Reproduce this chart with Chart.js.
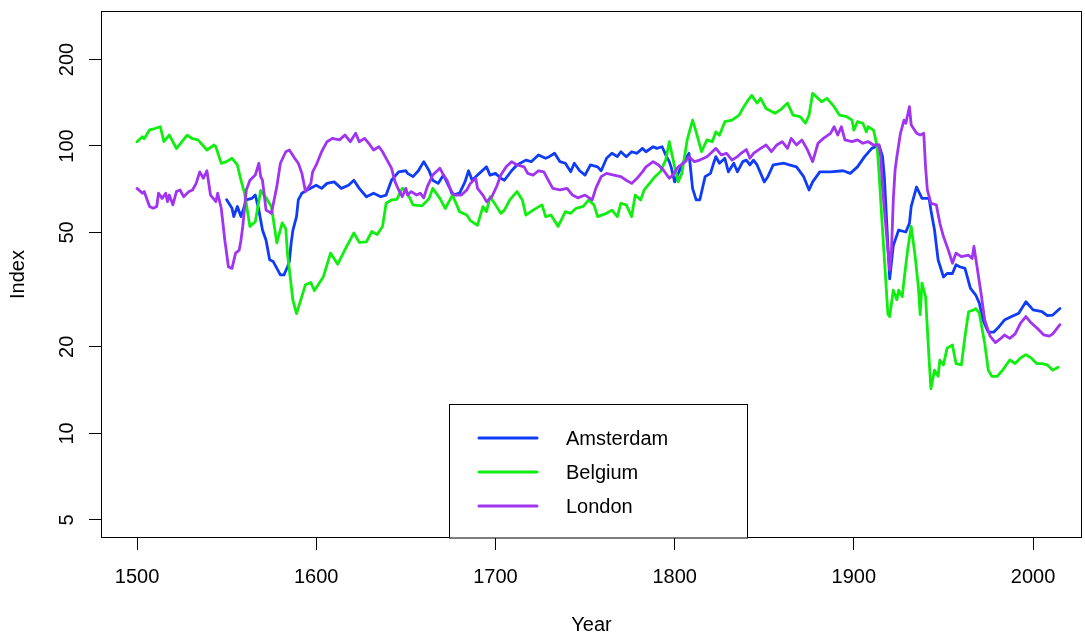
<!DOCTYPE html>
<html><head><meta charset="utf-8">
<script src="https://cdn.jsdelivr.net/npm/chart.js@4.4.1/dist/chart.umd.min.js"></script>
<style>html,body{margin:0;padding:0;background:#fff}canvas{display:block}</style>
</head><body>
<canvas id="c" width="1085" height="637"></canvas>
<script>
// ---------------- data ----------------
const seriesNames = ['Amsterdam', 'Belgium', 'London'];
const xTicks = [1500, 1600, 1700, 1800, 1900, 2000];
const yTicks = [5, 10, 20, 50, 100, 200];

const amsYears = [
 1550,1553,1554,1556,1558,1561,1564,1566,1568,1570,
 1572,1574,1576,1580,1582,1584,1585,1586,1587,1589,
 1590,1592,1595,1600,1603,1606,1610,1614,1618,1621,
 1624,1628,1632,1636,1639,1642,1646,1650,1651,1654,
 1657,1660,1663,1665,1668,1671,1675,1676,1680,1683,
 1685,1687,1690,1695,1697,1700,1703,1705,1709,1712,
 1717,1720,1724,1728,1730,1733,1736,1739,1742,1744,
 1747,1750,1753,1757,1759,1762,1765,1768,1770,1773,
 1776,1779,1782,1784,1788,1790,1793,1795,1797,1798,
 1800,1802,1805,1808,1809,1810,1812,1814,1817,1820,
 1822,1823,1825,1828,1830,1833,1835,1838,1840,1842,
 1844,1846,1848,1850,1852,1855,1861,1864,1868,1872,
 1875,1877,1881,1887,1894,1898,1902,1906,1910,1914,
 1916,1917,1919,1920,1922,1925,1929,1931,1932,1935,
 1938,1942,1943,1945,1947,1950,1952,1955,1957,1959,
 1962,1965,1968,1970,1972,1975,1978,1981,1984,1988,
 1992,1996,2000,2005,2008,2011,2015];
const amsValues = [
 65,60.7,56.8,61.6,56.8,64.9,65.7,67.5,59.8,51,
 47,40.2,39.6,35.6,35.6,38,39.6,45.9,51,56.8,
 64.9,68.5,70.3,73,71.2,74.1,75,71.2,73,76,
 71.2,66.6,68.5,66.6,67.5,76,81.3,82,80.3,78.2,
 82,88.2,82,76,74.1,79.2,70.3,67.5,68.5,75,
 82,76,79.2,84.6,79.2,80.3,77.2,76,82,85.9,
 89.3,88.2,93.1,90.6,91.8,94.3,88.2,87.1,81.3,87.1,
 82,79.2,85.9,84.6,82,90.6,94.3,91.8,95.5,91.8,
 95.5,94.3,98.1,95.5,99.4,98.1,99.4,93.1,88.2,84.6,
 75,80.3,88.2,94.3,82,71.2,64.9,64.9,78.2,80.3,
 88.2,91.8,87.1,90.6,81.3,87.1,81.3,88.2,89.3,85.9,
 89.3,85.9,80.3,75,78.2,85.9,87.1,85.9,84.6,78.2,
 70.3,75,81.3,81.3,82,80.3,84.6,91.8,98.1,100.8,
 91.8,78.2,45,34.5,45,51,50.2,53.8,61.6,72,
 65.7,65.7,59.8,51,40.2,35,36,36,38.6,38,
 37.5,32,30.3,28.4,24.8,22.5,22.5,23.5,24.8,25.5,
 26.2,28.7,26.9,26.5,25.7,25.8,27.2];

const belYears = [
 1500,1503,1504,1507,1510,1513,1515,1518,1522,1528,
 1531,1534,1539,1543,1544,1547,1550,1553,1556,1558,
 1560,1563,1566,1569,1572,1575,1578,1581,1583,1584,
 1587,1589,1594,1597,1599,1604,1608,1612,1617,1621,
 1624,1628,1631,1634,1637,1639,1642,1645,1648,1650,
 1654,1659,1663,1665,1669,1672,1676,1680,1684,1686,
 1690,1693,1695,1697,1700,1703,1705,1708,1712,1715,
 1717,1721,1726,1728,1731,1735,1739,1742,1745,1749,
 1752,1755,1757,1762,1765,1768,1770,1773,1776,1778,
 1781,1783,1786,1789,1792,1795,1797,1800,1802,1804,
 1807,1810,1812,1815,1818,1821,1823,1825,1828,1832,
 1836,1838,1841,1843,1846,1848,1851,1856,1859,1863,
 1866,1870,1873,1875,1877,1879,1882,1885,1889,1892,
 1896,1899,1900,1902,1905,1907,1908,1911,1913,1914,
 1916,1919,1920,1922,1924,1925,1927,1928,1930,1932,
 1933,1934,1936,1937,1938,1940,1942,1943,1945,1947,
 1948,1950,1952,1955,1957,1960,1962,1964,1967,1968,
 1970,1973,1975,1977,1980,1983,1987,1990,1993,1996,
 1999,2002,2005,2008,2011,2014];
const belValues = [
 103.5,107.7,106,113.7,115,116.7,103.5,109.2,98,109,
 106,105,96.8,100.8,99.4,87,88.2,90.6,85.9,76,
 68.5,52.5,54.5,70,66,61.5,46,54,51.5,42,
 29,26.1,32.9,33.5,31.4,35.1,42.4,38.8,44.7,49.8,
 46.2,46.4,50.4,49.2,52.5,63.2,64.9,65.2,71.2,70.3,
 62.4,61.9,65.7,71.2,65.7,60.6,67.5,59.1,57.5,55,
 53,61.5,59.1,66.6,62.4,58.3,59.8,64.9,69.4,64.9,
 57.5,59.8,62.4,56.8,57.5,52.5,59.1,58.3,60.7,61.6,
 64.9,62.4,56.8,58.3,59.8,56.8,63.2,62.4,56.8,67.5,
 64.9,70.3,74.1,78.2,81.3,89.3,103.5,84.6,75,80.3,
 105,123,112,95.5,105,103.5,112,109,121.5,123,
 128,135,144.5,150,141,146.5,135,130,133.5,141,
 128,126.5,120,128,152.5,148.5,142.5,146.5,137,128,
 126.5,123,113.5,121.5,120,112,116.7,113.5,99.5,81.3,
 51,26,25.5,31.5,29.2,31.5,29.9,34.2,43.4,52.5,
 47.1,42.4,32.3,25.9,33.3,29.9,18,14.3,16.6,15.8,
 18,17.3,19.8,20.3,17.5,17.3,21.7,26.5,26.9,27.2,
 26.2,20.6,16.6,15.8,15.8,16.6,18,17.5,18.3,18.8,
 18.3,17.5,17.5,17.3,16.6,17];

const lonYears = [
 1500,1503,1504,1507,1509,1511,1512,1514,1516,1517,
 1518,1520,1522,1524,1526,1529,1531,1533,1535,1537,
 1539,1541,1544,1545,1547,1549,1551,1553,1555,1557,
 1558,1559,1561,1563,1566,1568,1569,1570,1572,1575,
 1578,1580,1583,1585,1588,1590,1592,1594,1597,1598,
 1600,1603,1606,1609,1613,1616,1619,1622,1624,1627,
 1630,1632,1635,1637,1639,1642,1644,1646,1648,1650,
 1651,1653,1656,1658,1660,1662,1665,1669,1671,1673,
 1675,1677,1681,1684,1686,1689,1690,1693,1695,1698,
 1701,1703,1706,1709,1712,1716,1718,1721,1724,1727,
 1730,1732,1736,1740,1743,1746,1750,1754,1756,1759,
 1762,1766,1770,1773,1776,1779,1782,1784,1788,1791,
 1794,1797,1799,1802,1806,1808,1811,1814,1818,1821,
 1823,1826,1829,1832,1835,1837,1840,1842,1844,1848,
 1851,1854,1857,1860,1863,1865,1868,1871,1874,1877,
 1880,1883,1887,1889,1891,1893,1895,1899,1902,1905,
 1908,1911,1914,1915,1916,1918,1920,1921,1922,1923,
 1924,1926,1928,1929,1931,1932,1935,1937,1939,1940,
 1941,1943,1946,1948,1950,1953,1955,1957,1960,1964,
 1966,1967,1969,1971,1973,1976,1979,1982,1984,1987,
 1990,1993,1996,1999,2003,2006,2009,2011,2015];
const lonValues = [
 71.2,68.5,69.4,61.6,60.7,61.6,68.5,65.7,68.5,64,
 67.5,62.4,69.4,70.3,66.6,69.4,70.3,74.1,81.3,77.2,
 82,67.5,64,68.5,60.7,47,38,37.5,42.4,43.4,
 47,52.5,70.3,76,79.2,87.1,78.2,76,59.8,58.3,
 72.2,87.1,95.5,96.8,90.6,87.1,80.3,69.4,74.1,81.3,
 85.9,95.5,103.5,106.3,105,109.2,103.5,110.7,103.5,106.3,
 100.8,96.8,99.4,95.5,90.6,83.7,75,70.3,66.6,71.2,
 67.5,69.4,67.5,68.5,66,72.2,79.2,83.7,79.2,76,
 70.3,67.5,67.5,70.3,74.1,77.2,71.2,67.5,64,66.6,
 73.1,79.2,84.6,88.2,85.9,84.6,80.3,79.2,82,81.3,
 75,71.2,70.3,71.2,67.5,66,67.5,64.9,71.2,78.2,
 80.3,79.2,78.2,76,74.1,77.2,81.3,84.6,88.2,85.9,
 82,77.2,79.2,84.6,88.2,91.8,88.2,89.3,91.8,95.5,
 98.1,93.1,94.3,89.3,91.8,94.3,97.2,90.6,94.3,98.1,
 100.8,95.5,100.8,103.5,98.1,106.3,100.8,105,97.2,88.2,
 102.2,106.3,110.7,116.7,109.2,116.7,105,103.5,105,102.2,
 103.5,100.8,100.8,91.8,72.2,51,37,43.4,64.9,82.5,
 91.8,110.7,123,120,137,118.3,110.7,109.2,110.7,84.6,
 70.3,63.2,62.4,53.8,48.4,42.9,39.1,42.4,41.2,41.7,
 40.6,44.7,37,30.6,24.8,21.8,20.7,21.4,22,21.4,
 22.2,24.2,25.5,24.2,23,22,21.8,22.2,23.9];

// ---------------- styles ----------------
const seriesColors = ['#0f3cf5', '#10ee10', '#a034f0'];
const FONT = '"Liberation Sans", Arial, Helvetica, sans-serif';

function pts(xs, ys) { return xs.map((x, i) => ({ x: x, y: ys[i] })); }

const boxPlugin = {
  id: 'rbox',
  afterDraw(chart) {
    const { ctx, chartArea: a } = chart;
    ctx.save();
    ctx.strokeStyle = '#000';
    ctx.lineWidth = 1;
    ctx.strokeRect(Math.round(a.left) + 0.5, Math.round(a.top) + 0.5,
      Math.round(a.right - a.left) - 1, Math.round(a.bottom - a.top) - 1);
    ctx.restore();
  }
};

const yLabelPlugin = {
  id: 'ylabels',
  afterDraw(chart) {
    const s = chart.scales.y, ctx = chart.ctx;
    ctx.save();
    ctx.fillStyle = '#000';
    ctx.font = '20px ' + FONT;
    ctx.textAlign = 'center';
    ctx.textBaseline = 'middle';
    yTicks.forEach(v => {
      const y = s.getPixelForValue(v);
      ctx.save();
      ctx.translate(67, y);
      ctx.rotate(-Math.PI / 2);
      ctx.fillText(String(v), 0, 0);
      ctx.restore();
    });
    ctx.restore();
  }
};

const legendPlugin = {
  id: 'rlegend',
  afterDraw(chart) {
    const ctx = chart.ctx, a = chart.chartArea;
    const left = 449, top = 404, right = 747, bottom = Math.round(a.bottom);
    ctx.save();
    ctx.fillStyle = '#fff';
    ctx.fillRect(left, top, right - left, bottom - top);
    ctx.strokeStyle = '#000';
    ctx.lineWidth = 1;
    ctx.strokeRect(left + 0.5, top + 0.5, right - left, bottom - top - 0.5);
    chart.data.datasets.forEach((ds, i) => {
      const y = 438 + i * 34;
      ctx.strokeStyle = ds.borderColor;
      ctx.lineWidth = 3;
      ctx.lineCap = 'round';
      ctx.beginPath();
      ctx.moveTo(479, y);
      ctx.lineTo(537, y);
      ctx.stroke();
      ctx.fillStyle = '#000';
      ctx.font = '20px ' + FONT;
      ctx.textAlign = 'left';
      ctx.textBaseline = 'middle';
      ctx.fillText(ds.label, 566, y + 1);
    });
    ctx.restore();
  }
};

new Chart(document.getElementById('c'), {
  type: 'line',
  data: {
    datasets: [
      { label: seriesNames[0], data: pts(amsYears, amsValues), borderColor: seriesColors[0], order: 3 },
      { label: seriesNames[1], data: pts(belYears, belValues), borderColor: seriesColors[1], order: 2 },
      { label: seriesNames[2], data: pts(lonYears, lonValues), borderColor: seriesColors[2], order: 1 }
    ].map(d => Object.assign(d, { borderWidth: 2.8, pointRadius: 0, tension: 0, fill: false, borderJoinStyle: 'round', borderCapStyle: 'round' }))
  },
  options: {
    responsive: false,
    animation: false,
    events: [],
    layout: { padding: { top: 11, right: 3, left: 0, bottom: 0 } },
    plugins: { legend: { display: false }, tooltip: { enabled: false } },
    scales: {
      x: {
        type: 'linear',
        min: 1479.9, max: 2027.3,
        afterBuildTicks: s => { s.ticks = xTicks.map(v => ({ value: v })); },
        afterFit: s => { s.height = 99; },
        grid: { drawOnChartArea: false, drawTicks: true, tickLength: 12, color: '#000', lineWidth: 1 },
        border: { display: false },
        ticks: { color: '#000', font: { family: FONT, size: 20 }, padding: 15, maxRotation: 0, autoSkip: false,
          callback: v => String(v) },
        title: { display: true, text: 'Year', color: '#000', font: { family: FONT, size: 20 }, padding: { top: 0, bottom: 0 } }
      },
      y: {
        type: 'logarithmic',
        min: 4.325, max: 294.9,
        afterBuildTicks: s => { s.ticks = yTicks.map(v => ({ value: v })); },
        afterFit: s => { s.width = 101; },
        grid: { drawOnChartArea: false, drawTicks: true, tickLength: 12, color: '#000', lineWidth: 1 },
        border: { display: false },
        ticks: { color: '#000', font: { family: FONT, size: 1 }, callback: () => '' },
        title: { display: true, text: 'Index', color: '#000', font: { family: FONT, size: 20 }, padding: { top: 6, bottom: 0 } }
      }
    }
  },
  plugins: [boxPlugin, yLabelPlugin, legendPlugin]
});
</script>
</body></html>
